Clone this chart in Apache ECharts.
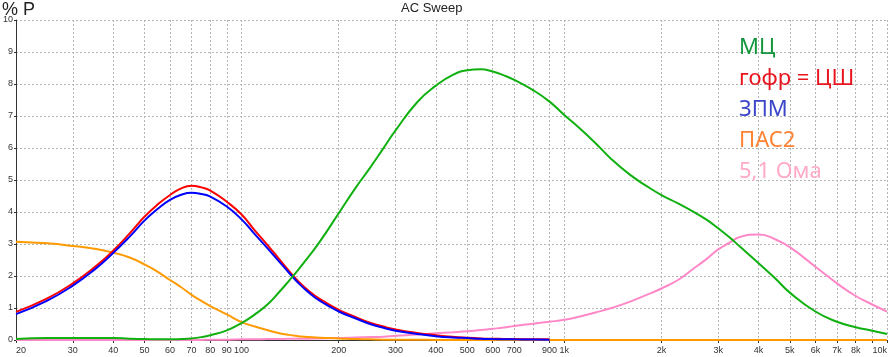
<!DOCTYPE html>
<html>
<head>
<meta charset="utf-8">
<script src="https://cdn.jsdelivr.net/npm/echarts@6/dist/echarts.min.js"></script>
<style>
  html, body { margin: 0; padding: 0; background: #fff; }
  #chart { width: 890px; height: 357px; }
</style>
</head>
<body>
<div id="chart"></div>
<script>
// частоты, Гц
const freqs = [20, 25, 30, 35, 40, 45, 50, 55, 60, 65,
  70, 75, 80, 90, 100, 110, 120, 130, 140, 150,
  160, 175, 200, 225, 250, 275, 300, 350, 400, 450,
  500, 550, 600, 650, 700, 800, 900, 1000, 1100, 1250,
  1400, 1600, 1800, 2000, 2250, 2500, 2750, 3000, 3250, 3500,
  4000, 4500, 5000, 6000, 7000, 8000, 9000, 10000]

// % P
const mc = [0.03, 0.06, 0.06, 0.06, 0.06, 0.04, 0.03, 0.02, 0.02, 0.03,
  0.05, 0.09, 0.15, 0.30, 0.53, 0.80, 1.10, 1.47, 1.84, 2.20,
  2.56, 3.08, 3.96, 4.74, 5.38, 5.99, 6.55, 7.43, 7.95, 8.28,
  8.43, 8.46, 8.39, 8.27, 8.13, 7.81, 7.45, 7.03, 6.67, 6.15,
  5.65, 5.16, 4.81, 4.53, 4.27, 4.02, 3.77, 3.49, 3.21, 2.92,
  2.40, 1.93, 1.48, 0.89, 0.57, 0.40, 0.29, 0.19]
const gofr = [0.88, 1.30, 1.77, 2.27, 2.79, 3.33, 3.85, 4.24, 4.53, 4.74,
  4.82, 4.77, 4.67, 4.32, 3.92, 3.42, 2.98, 2.56, 2.17, 1.83,
  1.57, 1.28, 0.94, 0.72, 0.54, 0.42, 0.33, 0.22, 0.15, 0.10,
  0.07, 0.05, 0.04, 0.035, 0.03, 0.02, 0.02, null, null, null,
  null, null, null, null, null, null, null, null, null, null,
  null, null, null, null, null, null, null, null]
const zpm = [0.81, 1.23, 1.70, 2.20, 2.72, 3.23, 3.73, 4.10, 4.38, 4.54,
  4.60, 4.56, 4.48, 4.17, 3.77, 3.30, 2.88, 2.48, 2.11, 1.78,
  1.52, 1.22, 0.89, 0.68, 0.50, 0.38, 0.29, 0.19, 0.12, 0.08,
  0.06, 0.04, 0.03, 0.025, 0.02, 0.015, 0.01, null, null, null,
  null, null, null, null, null, null, null, null, null, null,
  null, null, null, null, null, null, null, null]
const pas2 = [3.07, 3.02, 2.94, 2.85, 2.73, 2.58, 2.36, 2.13, 1.875, 1.65,
  1.41, 1.22, 1.06, 0.80, 0.56, 0.42, 0.31, 0.22, 0.16, 0.12,
  0.09, 0.07, 0.05, 0.03, 0.02, 0.01, 0.01, 0.01, 0, 0,
  0, 0, 0, 0, 0, 0, 0, 0, 0, 0,
  0, 0, 0, 0, 0, 0, 0, 0, 0, 0,
  0, 0, 0, 0, 0, 0, 0, 0]
const om51 = [0, 0, 0, 0, 0, 0, 0, 0, 0, 0,
  0, 0, 0.01, 0.01, 0.02, 0.02, 0.03, 0.03, 0.04, 0.04,
  0.04, 0.05, 0.06, 0.08, 0.09, 0.10, 0.13, 0.17, 0.21, 0.24,
  0.27, 0.31, 0.35, 0.39, 0.44, 0.51, 0.57, 0.63, 0.72, 0.86,
  1.00, 1.20, 1.41, 1.61, 1.875, 2.21, 2.52, 2.83, 3.04, 3.22,
  3.30, 3.15, 2.90, 2.29, 1.77, 1.375, 1.11, 0.89]

// сетка и подписи оси частот
const tickFreqs = [20, 30, 40, 50, 60, 70, 80, 90, 100, 200, 300, 400, 500, 600, 700, 800, 900,
  1000, 2000, 3000, 4000, 5000, 6000, 7000, 8000, 9000, 10000]
const labelFreqs = [20, 30, 40, 50, 60, 70, 80, 90, 100, 200, 300, 400, 500, 600, 700, 900,
  1000, 2000, 3000, 4000, 5000, 6000, 7000, 8000, 10000]

let fmtFreq = (f) => (f >= 1000 ? f / 1000 + 'k' : '' + f)
let toPoints = (vals) => freqs.map((f, i) => [Math.log10(f), vals[i]]).filter(p => p[1] !== null)

let chart = echarts.init(document.getElementById('chart'))

let gridStyle = { color: '#b4b4b4', type: [2, 2], width: 1 }

let mkSeries = (name, vals, color) => ({
  name: name,
  type: 'line',
  smooth: 0.5,
  showSymbol: false,
  symbol: 'none',
  lineStyle: { color: color, width: 2 },
  itemStyle: { color: color },
  data: toPoints(vals)
})

let option = {
  animation: false,
  title: [
    { text: '% P', left: 2, top: 1, padding: 0,
      textStyle: { fontFamily: 'Liberation Sans', fontSize: 18, fontWeight: 'normal', color: '#222' } },
    { text: 'AC Sweep', left: 401, top: 2, padding: 0,
      textStyle: { fontFamily: 'Liberation Sans', fontSize: 13, fontWeight: 'normal', color: '#222' } }
  ],
  legend: {
    orient: 'vertical',
    left: 729,
    top: 30,
    icon: 'none',
    itemWidth: 0,
    itemHeight: 0,
    itemGap: 5,
    selectedMode: false,
    textStyle: { fontFamily: 'Noto Sans', fontSize: 22, lineHeight: 26 },
    data: [
      { name: 'МЦ', textStyle: { color: '#14963c' } },
      { name: 'гофр = ЦШ', textStyle: { color: '#e8141e' } },
      { name: 'ЗПМ', textStyle: { color: '#3c46c8' } },
      { name: 'ПАС2', textStyle: { color: '#ff8232' } },
      { name: '5,1 Ома', textStyle: { color: '#ffaac8' } }
    ]
  },
  grid: { left: 12, right: 3, top: 20, bottom: 17, containLabel: false },
  xAxis: {
    type: 'value',
    min: Math.log10(20),
    max: 4,
    axisLine: { lineStyle: { color: '#333', width: 1 } },
    axisTick: { show: true, length: 3, lineStyle: { color: '#333' }, customValues: tickFreqs.map(Math.log10) },
    axisLabel: {
      customValues: labelFreqs.map(Math.log10),
      margin: 6,
      fontFamily: 'Liberation Sans',
      fontSize: 9,
      color: '#333',
      alignMinLabel: 'left',
      alignMaxLabel: 'right',
      formatter: (v) => fmtFreq(Math.round(Math.pow(10, v)))
    },
    splitLine: { show: true, lineStyle: gridStyle }
  },
  yAxis: {
    type: 'value',
    min: 0,
    max: 10,
    interval: 1,
    axisLine: { show: true, lineStyle: { color: '#333', width: 1 } },
    axisTick: { show: true, length: 2, lineStyle: { color: '#333' } },
    axisLabel: { margin: 3, fontFamily: 'Liberation Sans', fontSize: 9, color: '#333', padding: [0, 0, 5, 0] },
    splitLine: { show: true, lineStyle: gridStyle }
  },
  series: [
    mkSeries('5,1 Ома', om51, '#ff88c8'),
    mkSeries('ПАС2', pas2, '#ff9a00'),
    mkSeries('гофр = ЦШ', gofr, '#ff0000'),
    mkSeries('ЗПМ', zpm, '#0000ff'),
    mkSeries('МЦ', mc, '#10b010')
  ]
}
chart.setOption(option)
</script>
</body>
</html>
